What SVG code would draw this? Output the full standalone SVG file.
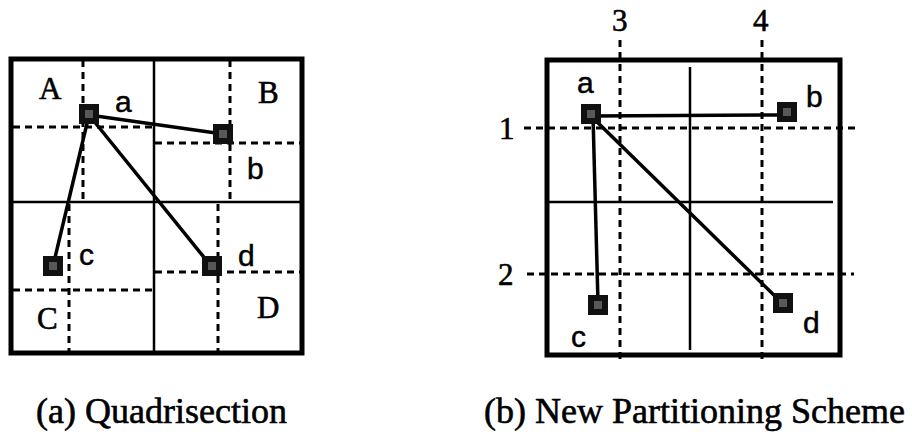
<svg xmlns="http://www.w3.org/2000/svg" width="912" height="435" viewBox="0 0 912 435">
<style>
.box{fill:none;stroke:#000;stroke-width:5}
.solid{stroke:#000;stroke-width:2.5;fill:none}
.dash{stroke:#000;stroke-width:3;stroke-dasharray:7 5;fill:none}
.wire{stroke:#000;stroke-width:3.5;fill:none}
.ser{font-family:"Liberation Serif","Times New Roman",serif;font-size:31px;fill:#000;stroke:#000;stroke-width:0.6}
.sans{font-family:"Liberation Sans",Arial,sans-serif;font-size:30px;fill:#000;stroke:#000;stroke-width:0.5}
.cap{font-family:"Liberation Serif","Times New Roman",serif;font-size:36px;fill:#000;stroke:#000;stroke-width:0.6}
.node{fill:#111}
.dot{fill:#888}
</style>
<defs>
<g id="cell">
<rect class="node" x="-10" y="-10" width="20" height="20"/>
<rect class="dot" x="-4" y="-4" width="8" height="8" opacity="0.6"/>
</g>
</defs>

<g id="panel-a">
<rect class="box" x="11" y="59" width="291" height="294"/>
<line class="solid" x1="154" y1="60" x2="154" y2="352"/>
<line class="solid" x1="12" y1="202" x2="301" y2="202"/>
<line class="dash" x1="83" y1="60" x2="83" y2="200"/>
<line class="dash" x1="13" y1="127" x2="153" y2="127"/>
<line class="dash" x1="230" y1="60" x2="230" y2="200"/>
<line class="dash" x1="155" y1="143" x2="300" y2="143"/>
<line class="dash" x1="69" y1="204" x2="69" y2="352"/>
<line class="dash" x1="13" y1="290" x2="153" y2="290"/>
<line class="dash" x1="218" y1="204" x2="218" y2="352"/>
<line class="dash" x1="155" y1="272" x2="300" y2="272"/>
<text class="ser" x="39" y="99">A</text>
<text class="ser" x="258" y="103">B</text>
<text class="ser" x="37" y="329">C</text>
<text class="ser" x="257" y="318">D</text>
</g>

<g id="connectors-a">
<line class="wire" x1="89" y1="115" x2="223" y2="134"/>
<line class="wire" x1="89" y1="115" x2="53" y2="266"/>
<line class="wire" x1="89" y1="115" x2="211" y2="266"/>
</g>

<g id="node-a-a"><use href="#cell" x="89" y="114"/><text class="sans" x="115" y="112">a</text></g>
<g id="node-a-b"><use href="#cell" x="223" y="134"/><text class="sans" x="247" y="179">b</text></g>
<g id="node-a-c"><use href="#cell" x="53" y="266"/><text class="sans" x="79" y="265">c</text></g>
<g id="node-a-d"><use href="#cell" x="212" y="266"/><text class="sans" x="238" y="266">d</text></g>

<g id="panel-b">
<rect class="box" x="547" y="60" width="293" height="295"/>
<line class="solid" x1="690" y1="67" x2="690" y2="350"/>
<line class="solid" x1="549" y1="202" x2="833" y2="202"/>
<line class="dash" x1="620" y1="40" x2="620" y2="363"/>
<line class="dash" x1="762" y1="40" x2="762" y2="363"/>
<line class="dash" x1="524" y1="128" x2="858" y2="128"/>
<line class="dash" x1="527" y1="274" x2="854" y2="274"/>
<text class="ser" x="612" y="31">3</text>
<text class="ser" x="753" y="31">4</text>
<text class="ser" x="499" y="139">1</text>
<text class="ser" x="498" y="285">2</text>
</g>

<g id="connectors-b">
<line class="wire" x1="591" y1="116" x2="786" y2="115"/>
<line class="wire" x1="593" y1="116" x2="598" y2="303"/>
<line class="wire" x1="591" y1="116" x2="782" y2="303"/>
</g>

<g id="node-b-a"><use href="#cell" x="591" y="114"/><text class="sans" x="577" y="93">a</text></g>
<g id="node-b-b"><use href="#cell" x="787" y="112"/><text class="sans" x="806" y="107">b</text></g>
<g id="node-b-c"><use href="#cell" x="598" y="305"/><text class="sans" x="571" y="347">c</text></g>
<g id="node-b-d"><use href="#cell" x="783" y="303"/><text class="sans" x="803" y="333">d</text></g>

<text class="cap" x="36" y="423">(a) Quadrisection</text>
<text class="cap" x="484" y="423">(b) New Partitioning Scheme</text>
</svg>
